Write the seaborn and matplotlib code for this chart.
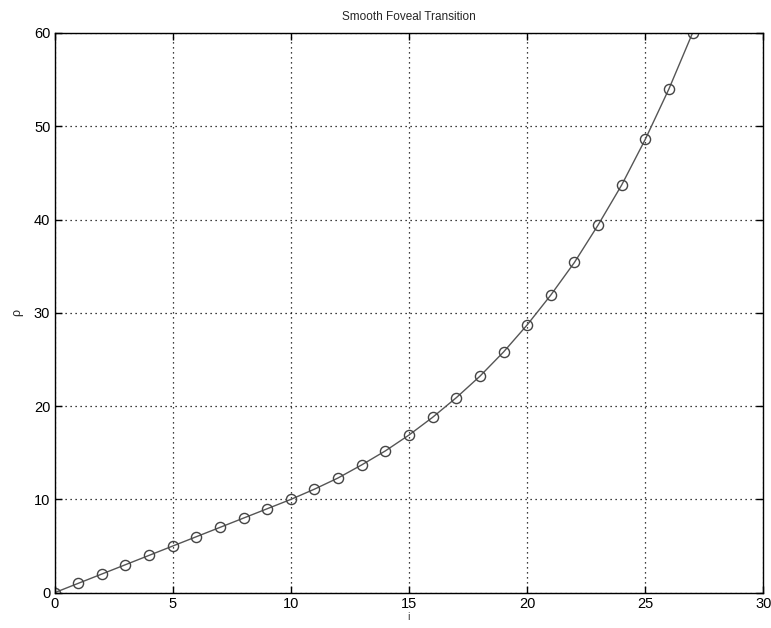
import matplotlib
matplotlib.use("Agg")
import matplotlib.pyplot as plt
import seaborn as sns
import pandas as pd

# Data
i_values = list(range(0, 28))
rho_values = [0, 1, 2, 3, 4, 5, 6, 7, 8, 9, 10,
              11.1, 12.3, 13.7, 15.2, 16.9, 18.8, 20.9, 23.2, 25.8,
              28.7, 31.9, 35.4, 39.4, 43.7, 48.6, 54.0, 60.0]
x_ticks = [0, 5, 10, 15, 20, 25, 30]
y_ticks = [0, 10, 20, 30, 40, 50, 60]

df = pd.DataFrame({"i": i_values, "rho": rho_values})

sns.set_theme(style="white")
plt.rcParams['font.family'] = ['Liberation Sans', 'DejaVu Sans']

fig = plt.figure(figsize=(7.71, 6.28), dpi=100)
ax = fig.add_axes([0.0707, 0.0562, 0.9195, 0.8913])

sns.lineplot(data=df, x="i", y="rho", ax=ax, color="#555555", linewidth=1.0,
             marker="o", markersize=7.3, markerfacecolor="none",
             markeredgecolor="#444444", markeredgewidth=1.0)

ax.set_xlim(0, 30)
ax.set_ylim(0, 60)
ax.set_xticks(x_ticks)
ax.set_yticks(y_ticks)
ax.set_xticklabels([str(t) for t in x_ticks], fontsize=10.5)
ax.set_yticklabels([str(t) for t in y_ticks], fontsize=10.5)
ax.grid(True, color="black", linestyle=(0, (1, 3)), linewidth=0.9)
ax.tick_params(direction="in", length=5, width=1.0, colors="black",
               top=True, right=True, bottom=True, left=True, pad=3)
for s in ax.spines.values():
    s.set_color("black")
    s.set_linewidth(1.0)
ax.set_xlabel("i", fontsize=8, labelpad=1, color="#444444")
ax.set_ylabel("ρ", fontsize=9, labelpad=8)
ax.set_title("Smooth Foveal Transition", fontsize=8.5, pad=9)

fig.savefig("out.png", dpi=100)
